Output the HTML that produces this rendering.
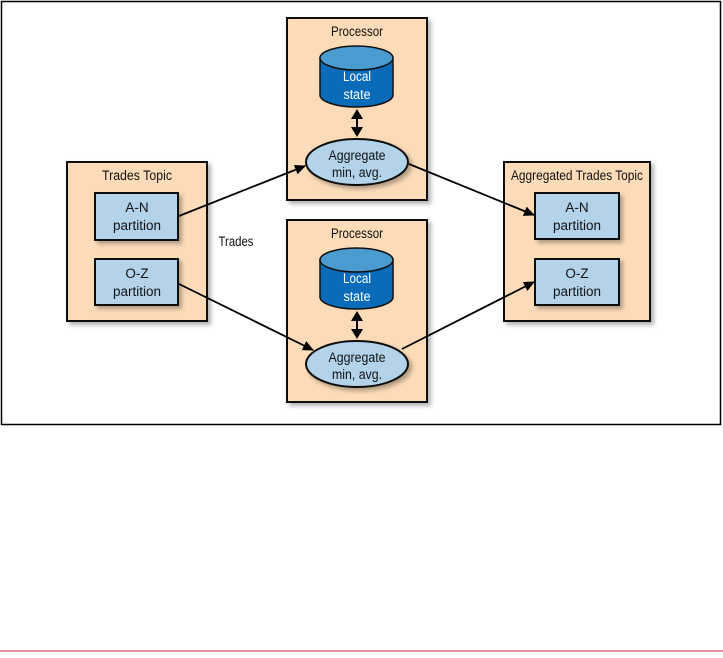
<!DOCTYPE html>
<html><head><meta charset="utf-8"><style>
html,body{margin:0;padding:0;background:#fff;}
svg text{font-family:"Liberation Sans",sans-serif;font-size:13.5px;fill:#111;text-anchor:middle;}
</style></head><body>
<svg width="723" height="653" viewBox="0 0 723 653" xmlns="http://www.w3.org/2000/svg">
<defs>
<marker id="a" markerWidth="11" markerHeight="10" refX="10" refY="5" orient="auto" markerUnits="userSpaceOnUse"><path d="M0,0 L11,5 L0,10 z" fill="#000"/></marker>
<filter id="s" x="-10%" y="-10%" width="130%" height="130%"><feDropShadow dx="3" dy="3" stdDeviation="2" flood-color="#000" flood-opacity="0.3"/></filter>
</defs>
<rect x="1.5" y="1.5" width="719" height="423" fill="#fff" stroke="#000" stroke-width="1.5"/>
<line x1="0" y1="651" x2="723" y2="651" stroke="#d02030" stroke-width="1"/>
<rect x="67" y="162" width="140" height="159" fill="#fcdcb8" stroke="#111" stroke-width="2" filter="url(#s)"/>
<text x="137" y="180" textLength="70" lengthAdjust="spacingAndGlyphs">Trades Topic</text>
<rect x="95" y="193" width="83" height="47" fill="#b2d3ea" stroke="#111" stroke-width="2" filter="url(#s)"/>
<text x="137" y="212">A-N</text><text x="137" y="230" textLength="48" lengthAdjust="spacingAndGlyphs">partition</text>
<rect x="95" y="259" width="83" height="46" fill="#b2d3ea" stroke="#111" stroke-width="2" filter="url(#s)"/>
<text x="137" y="278">O-Z</text><text x="137" y="296" textLength="48" lengthAdjust="spacingAndGlyphs">partition</text>
<rect x="504" y="162" width="146" height="159" fill="#fcdcb8" stroke="#111" stroke-width="2" filter="url(#s)"/>
<text x="577" y="180" textLength="132" lengthAdjust="spacingAndGlyphs">Aggregated Trades Topic</text>
<rect x="535" y="193" width="84" height="46" fill="#b2d3ea" stroke="#111" stroke-width="2" filter="url(#s)"/>
<text x="577" y="212">A-N</text><text x="577" y="230" textLength="48" lengthAdjust="spacingAndGlyphs">partition</text>
<rect x="535" y="259" width="84" height="46" fill="#b2d3ea" stroke="#111" stroke-width="2" filter="url(#s)"/>
<text x="577" y="278">O-Z</text><text x="577" y="296" textLength="48" lengthAdjust="spacingAndGlyphs">partition</text>
<text x="236" y="246" textLength="35" lengthAdjust="spacingAndGlyphs">Trades</text>
<g id="p1">
<rect x="287" y="18" width="140" height="182" fill="#fcdcb8" stroke="#111" stroke-width="2" filter="url(#s)"/>
<text x="357" y="36" textLength="52" lengthAdjust="spacingAndGlyphs">Processor</text>
<path d="M320,58 L320,95 A36.5,12 0 0 0 393,95 L393,58 Z" fill="#0a6cb8" stroke="#111" stroke-width="1.5"/>
<ellipse cx="356.5" cy="58" rx="36.5" ry="12" fill="#4a9bd0" stroke="#111" stroke-width="1.5"/>
<text x="357" y="81" style="fill:#fff" textLength="28" lengthAdjust="spacingAndGlyphs">Local</text><text x="357" y="99" style="fill:#fff" textLength="27" lengthAdjust="spacingAndGlyphs">state</text>
<line x1="357" y1="118" x2="357" y2="128" stroke="#000" stroke-width="2"/>
<path d="M351,119 L357,109 L363,119 z M351,127 L357,137 L363,127 z" fill="#000"/>
<ellipse cx="357" cy="162" rx="51" ry="23" fill="#b2d3ea" stroke="#111" stroke-width="2" filter="url(#s)"/>
<text x="357" y="160" textLength="57" lengthAdjust="spacingAndGlyphs">Aggregate</text><text x="357" y="177" textLength="50" lengthAdjust="spacingAndGlyphs">min, avg.</text>
</g>
<use href="#p1" transform="translate(0,202)"/>
<g stroke="#000" stroke-width="1.8" fill="none" marker-end="url(#a)">
<line x1="179" y1="216" x2="305" y2="166"/>
<line x1="179" y1="284" x2="313" y2="350"/>
<line x1="409" y1="164" x2="534" y2="215"/>
<line x1="402" y1="349" x2="534" y2="282"/>
</g>
</svg>
</body></html>
